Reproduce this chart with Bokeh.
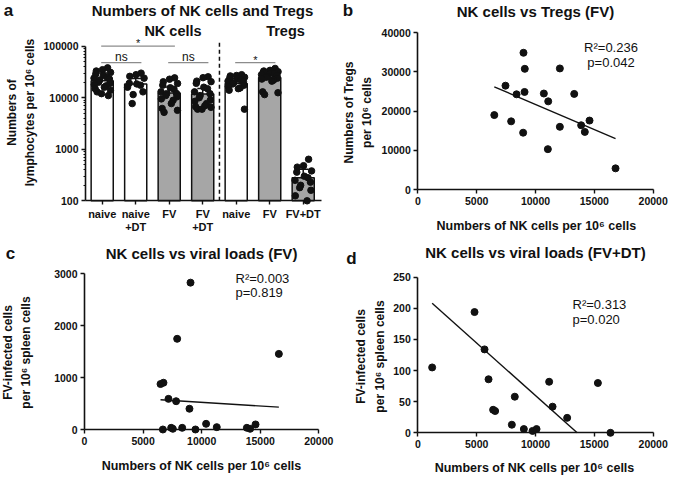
import math
from bokeh.plotting import figure
from bokeh.models import (Label, Range1d, FixedTicker, NumeralTickFormatter,
                          LinearAxis, LogAxis, LogScale)
from bokeh.embed import file_html
from bokeh.resources import INLINE

FONT = "Liberation Sans"
INK = "#111111"
BAR_GRAY = "#a6a6a6"
SIG_GRAY = "#8c8c8c"

# ---------------- data ----------------
# (a) Numbers of NK cells and Tregs (per 10^6 lymphocytes)
a_title = "Numbers of NK cells and Tregs"
a_groups = ["naive", "naive +DT", "FV", "FV +DT", "naive", "FV", "FV+DT"]
a_cell_type = ["NK cells", "NK cells", "NK cells", "NK cells", "Tregs", "Tregs", "Tregs"]
a_mean = [21300, 18500, 12400, 11800, 18800, 24700, 279]
a_sd = [9000, 5000, 3800, 3300, 4800, 4800, 130]
a_nk_naive = [38000, 35000, 33000, 31000, 29000, 27000, 25000, 24000, 23000, 22000,
              20000, 19000, 18000, 17000, 16000, 15000, 14000, 13000, 12000, 11000]
a_nk_naive_dt = [30000, 28000, 26000, 24000, 19000, 18500, 17500, 16000, 13000, 11500, 7700]
a_nk_fv = [24300, 22900, 20400, 18900, 17500, 15600, 14600, 13000, 12100, 12000,
           11000, 10400, 9500, 8900, 7700, 6200, 5700, 5200]
a_nk_fv_dt = [25500, 24500, 21000, 20500, 19000, 16000, 15000, 13000, 12000, 11000,
              10000, 9000, 8500, 7700, 7000, 6700, 6500, 6000, 6000]
a_treg_naive = [28000, 27000, 26500, 25000, 24000, 23000, 22000, 21000, 20500, 19500,
                18500, 17500, 16500, 15500, 15000, 14000, 6000]
a_treg_fv = [37000, 34000, 33000, 32000, 31000, 30000, 29000, 28000, 27000, 26000,
             25000, 24000, 23000, 22000, 21000, 13000, 12500, 11500]
a_treg_fv_dt = [640, 480, 450, 380, 360, 300, 280, 250, 230, 200, 180, 160, 125, 100]
a_points = [a_nk_naive, a_nk_naive_dt, a_nk_fv, a_nk_fv_dt, a_treg_naive, a_treg_fv, a_treg_fv_dt]
a_comparisons = [(0, 2, "*"), (0, 1, "ns"), (2, 3, "ns"), (4, 5, "*")]
a_yticks = [100, 1000, 10000, 100000]
a_ylabel = ["Numbers of", "lymphocytes per 10\u2076 cells"]

# (b) NK cells vs Tregs (FV)
b_title = "NK cells vs Tregs (FV)"
b_nk = [6500, 7450, 7930, 8390, 8980, 9090, 9070, 8950, 10710, 11080, 11050, 12070,
        12070, 13290, 13880, 14190, 14590, 16800]
b_treg = [19000, 26500, 17400, 24300, 34900, 30800, 24900, 14500, 24500, 22500, 10300,
          30900, 16000, 24400, 16400, 14700, 17600, 5400]
b_fit_x = [6500, 16800]
b_fit_y = [26200, 13000]
b_stats = ["R\u00b2=0.236", "p=0.042"]
b_yticks = [0, 10000, 20000, 30000, 40000]
b_ylabel = ["Numbers of Tregs", "per 10\u2076 cells"]

# (c) NK cells vs viral loads (FV)
c_title = "NK cells vs viral loads (FV)"
c_nk = [9050, 7910, 16590, 6490, 6740, 7170, 7820, 8960, 6690, 7400, 7540, 8340,
        9470, 10380, 11290, 13860, 14140, 14600]
c_inf = [2830, 1750, 1460, 880, 905, 595, 550, 405, 6, 38, 19, 38, 6, 115, 51, 38, 19, 103]
c_fit_x = [6490, 16590]
c_fit_y = [577, 436]
c_stats = ["R\u00b2=0.003", "p=0.819"]
c_yticks = [0, 1000, 2000, 3000]

# (d) NK cells vs viral loads (FV+DT)
d_title = "NK cells vs viral loads (FV+DT)"
d_nk = [1220, 4820, 5670, 6010, 6400, 6570, 7990, 8240, 9010, 9750, 10090, 11160,
        11450, 12690, 15300, 16370]
d_inf = [105, 194, 134, 86, 37, 35, 13, 58, 6, 3, 6, 82, 42, 24, 80, 0]
d_fit_x = [1220, 13540]
d_fit_y = [208, 0]
d_stats = ["R\u00b2=0.313", "p=0.020"]
d_yticks = [0, 50, 100, 150, 200, 250]

xticks_nk = [0, 5000, 10000, 15000, 20000]
x_label_nk = "Numbers of NK cells per 10\u2076 cells"
y_label_inf = ["FV-infected cells", "per 10\u2076 spleen cells"]

# ---------------- canvas ----------------
W, H = 669, 475
p = figure(width=W, height=H, x_range=Range1d(0, W), y_range=Range1d(H, 0),
           x_axis_location=None, y_axis_location=None, output_backend="svg",
           toolbar_location=None, min_border=0)
p.min_border_left = p.min_border_right = p.min_border_top = p.min_border_bottom = 0
p.outline_line_color = None
p.grid.visible = False
p.background_fill_color = "white"
p.border_fill_color = "white"

xr, yr, ys = {}, {}, {}


class Map:
    """Maps one panel's data onto canvas pixels (x from left, y from top)."""

    def __init__(self, name, x_pts, y_pts, log=False):
        (self.xa, self.pa), (self.xb, self.pb) = x_pts
        (ya, self.qa), (yb, self.qb) = y_pts
        self.log = log
        self.ta = math.log10(ya) if log else ya
        self.tb = math.log10(yb) if log else yb
        self.xn, self.yn = name + "_x", name + "_y"
        xr[self.xn] = Range1d(self.x_at(0), self.x_at(W))
        yr[self.yn] = Range1d(self.y_at(H), self.y_at(0))
        if log:
            ys[self.yn] = LogScale()

    def px(self, x):
        return self.pa + (x - self.xa) * (self.pb - self.pa) / (self.xb - self.xa)

    def py(self, y):
        t = math.log10(y) if self.log else y
        return self.qa + (t - self.ta) * (self.qb - self.qa) / (self.tb - self.ta)

    def x_at(self, px):
        return self.xa + (px - self.pa) * (self.xb - self.xa) / (self.pb - self.pa)

    def y_at(self, py):
        t = self.ta + (py - self.qa) * (self.tb - self.ta) / (self.qb - self.qa)
        return 10 ** t if self.log else t

    def kw(self):
        return dict(x_range_name=self.xn, y_range_name=self.yn)


def style_axis(ax):
    ax.axis_line_color = INK
    ax.axis_line_width = 1.6
    ax.major_tick_line_color = INK
    ax.major_tick_line_width = 1.4
    ax.major_tick_in = 0
    ax.major_tick_out = 4
    ax.minor_tick_line_color = None
    ax.major_label_text_font = FONT
    ax.major_label_text_font_size = "10.5px"
    ax.major_label_text_font_style = "bold"
    ax.major_label_text_color = INK
    ax.major_label_standoff = 3


def txt(x, y, s, size, bold=True, align="center", angle=0.0):
    p.add_layout(Label(x=x, y=y, text=s, text_font=FONT, text_font_size=f"{size}px",
                       text_font_style="bold" if bold else "normal", text_color=INK,
                       text_align=align, text_baseline="middle", angle=angle))


def scatter_panel(m, xs, yv, fit_x, fit_y, xticks, yticks):
    xa = LinearAxis(fixed_location=yticks[0], bounds=(xticks[0], xticks[-1]),
                    ticker=FixedTicker(ticks=xticks), **m.kw())
    ya = LinearAxis(fixed_location=xticks[0], bounds=(yticks[0], yticks[-1]),
                    ticker=FixedTicker(ticks=yticks), **m.kw())
    for ax in (xa, ya):
        style_axis(ax)
    p.add_layout(xa, "below")
    p.add_layout(ya, "left")
    p.line(fit_x, fit_y, line_color=INK, line_width=1.4, **m.kw())
    p.scatter(xs, yv, size=7, fill_color=INK, line_color=INK, **m.kw())


# ---------------- panel a ----------------
ma = Map("a", [(0, 101.7), (1, 135.2)], [(a_yticks[0], 200.3), (a_yticks[-1], 45.7)], log=True)
xs = list(range(len(a_groups)))
ax_left, ax_right = ma.x_at(85), ma.x_at(321)
axa = LinearAxis(fixed_location=a_yticks[0], bounds=(ax_left, ax_right),
                 ticker=FixedTicker(ticks=xs), **ma.kw())
style_axis(axa)
axa.major_label_overrides = {i: "" for i in xs}
aya = LogAxis(fixed_location=ax_left, bounds=(a_yticks[0], a_yticks[-1]),
              ticker=FixedTicker(ticks=a_yticks,
                                 minor_ticks=[m * t for t in a_yticks[:-1] for m in range(2, 10)]),
              formatter=NumeralTickFormatter(format="0"), **ma.kw())
style_axis(aya)
aya.minor_tick_line_color = INK
aya.minor_tick_line_width = 1.2
aya.minor_tick_out = 2
aya.minor_tick_in = 0
p.add_layout(axa, "below")
p.add_layout(aya, "left")

fills = [BAR_GRAY if "FV" in g else "white" for g in a_groups]
p.vbar(x=xs, top=a_mean, bottom=a_yticks[0], width=0.66, fill_color=fills,
       line_color=INK, line_width=1.5, **ma.kw())
tops = [mv + s for mv, s in zip(a_mean, a_sd)]
p.segment(x0=xs, y0=a_mean, x1=xs, y1=tops, line_color=INK, line_width=1.5, **ma.kw())
p.segment(x0=[x - 0.16 for x in xs], y0=tops, x1=[x + 0.16 for x in xs], y1=tops,
          line_color=INK, line_width=1.5, **ma.kw())
for i, vals in enumerate(a_points):
    vs = sorted(vals, reverse=True)
    pxs = [i + 0.25 * math.sin(j * 2.39996 + 0.7) for j in range(len(vs))]
    p.scatter(pxs, vs, size=6.5, fill_color=INK, line_color=INK, **ma.kw())

last_nk = max(i for i, c in enumerate(a_cell_type) if c == "NK cells")
sep = last_nk + 0.5
p.segment(x0=[sep], y0=[a_yticks[0]], x1=[sep], y1=[ma.y_at(40)], line_color=INK,
          line_width=1.5, line_dash="4 3", **ma.kw())

top_px = ma.py(a_yticks[-1])
for i0, i1, lab in a_comparisons:
    lp = top_px if i1 - i0 > 1 else top_px + 16.5
    yv = ma.y_at(lp)
    x0, x1 = i0 - 0.03, i1 + 0.17
    p.segment(x0=[x0], y0=[yv], x1=[x1], y1=[yv], line_color=SIG_GRAY, line_width=1.2,
              **ma.kw())
    xm = ma.px((x0 + x1) / 2)
    if lab == "ns":
        txt(xm, lp - 6, lab, 12, bold=False)
    else:
        txt(xm, lp - 3, lab, 11, bold=False)

for i, g in enumerate(a_groups):
    for k, s in enumerate(g.split(" ")):
        txt(ma.px(i), 213 + 13 * k, s, 11)

txt(8, 10, "a", 17)
txt(202, 9.5, a_title, 15)
txt(172.5, 30, "NK cells", 14.5)
txt(285, 30, "Tregs", 14.5)
txt(11, 112, a_ylabel[0], 12, angle=math.pi / 2)
txt(29, 112, a_ylabel[1], 12, angle=math.pi / 2)

# ---------------- panel b ----------------
mb = Map("b", [(0, 417.3), (20000, 652.7)], [(0, 189), (40000, 32.3)])
scatter_panel(mb, b_nk, b_treg, b_fit_x, b_fit_y, xticks_nk, b_yticks)
txt(347.5, 10, "b", 17)
txt(535, 10.5, b_title, 15)
txt(348, 112, b_ylabel[0], 12, angle=math.pi / 2)
txt(366, 112, b_ylabel[1], 12, angle=math.pi / 2)
txt(535.8, 225, x_label_nk, 12.5)
txt(610.5, 47, b_stats[0], 13, bold=False)
txt(610.5, 62, b_stats[1], 13, bold=False)

# ---------------- panel c ----------------
mc = Map("c", [(0, 84), (20000, 318.3)], [(0, 429.3), (3000, 273.3)])
scatter_panel(mc, c_nk, c_inf, c_fit_x, c_fit_y, xticks_nk, c_yticks)
txt(10, 252.5, "c", 17)
txt(201, 252.7, c_title, 15)
txt(7.5, 352, y_label_inf[0], 12, angle=math.pi / 2)
txt(25.5, 352, y_label_inf[1], 12, angle=math.pi / 2)
txt(201, 465, x_label_nk, 12.5)
txt(235, 277.7, c_stats[0], 13, bold=False, align="left")
txt(235, 291.7, c_stats[1], 13, bold=False, align="left")

# ---------------- panel d ----------------
md = Map("d", [(0, 417.3), (20000, 652.7)], [(0, 432.3), (250, 276.7)])
scatter_panel(md, d_nk, d_inf, d_fit_x, d_fit_y, xticks_nk, d_yticks)
txt(351, 257.5, "d", 17)
txt(535, 251.7, d_title, 15)
txt(360, 356, y_label_inf[0], 12, angle=math.pi / 2)
txt(379, 356, y_label_inf[1], 12, angle=math.pi / 2)
txt(534, 467, x_label_nk, 12.5)
txt(572, 304, d_stats[0], 13, bold=False, align="left")
txt(572, 319, d_stats[1], 13, bold=False, align="left")

p.extra_x_ranges = xr
p.extra_y_ranges = yr
p.extra_y_scales = ys

open("out.html", "w").write(file_html(p, INLINE, title="NK cells and Tregs"))
